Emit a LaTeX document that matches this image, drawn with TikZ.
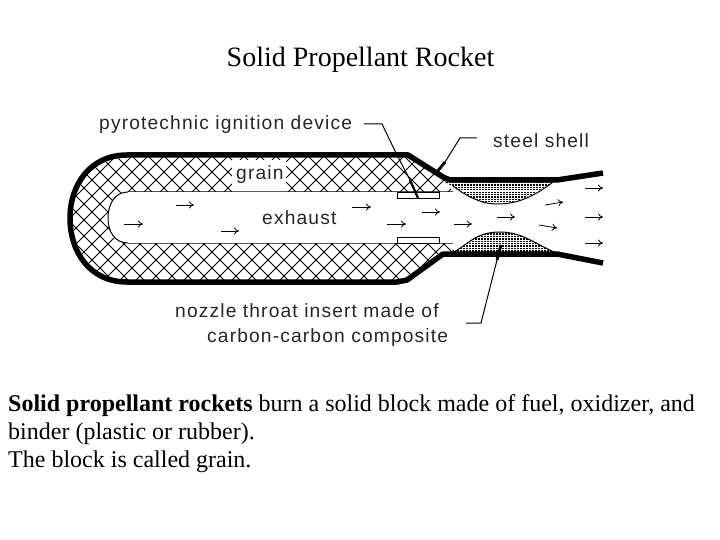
\documentclass[tikz,border=0pt]{standalone}
\usepackage{fontspec}
\usetikzlibrary{arrows.meta}
\setmainfont{Liberation Serif}
\newfontfamily\lblfont[LetterSpace=6]{Liberation Sans}
\begin{document}
\begin{tikzpicture}[x=1pt,y=-1pt,
 lbl/.style={inner sep=0pt,font=\lblfont\fontsize{19.2}{21}\selectfont,text=black!85},
 body/.style={inner sep=0pt,anchor=base west,font=\fontsize{24}{27}\selectfont},
 shell/.style={line width=5.5pt,line join=round},
 hair/.style={line width=1pt},
 flow/.style={line width=0.8pt,-{To[length=5pt,width=7pt]}}]
\path[use as bounding box] (0,0) rectangle (720,540);
\node[inner sep=0pt,font=\fontsize{28}{31}\selectfont] (title) at (360.5,60) {Solid Propellant Rocket};
% grain hatching
\begin{scope}
\clip (127,155) .. controls (90,155) and (68,185) .. (68,218) .. controls (68,252) and (90,282) .. (127,282) -- (397,282) -- (407,280) -- (443,254) -- (455,254) -- (453,243) -- (128,243) .. controls (115,243) and (108,232) .. (108,218) .. controls (108,204) and (115,192) .. (128,192) -- (453,192) -- (443,178) -- (408,155) -- cycle;
\foreach \k in {-20,...,40} {
 \draw[line width=0.9pt] (\k*16+4,140) -- ++(160,160);
 \draw[line width=0.9pt] (\k*16+4,140) -- ++(-160,160);
}
\end{scope}
% nozzle insert dots
\begin{scope}
\clip (440,180) -- (557,180) .. controls (540,190) and (520,204) .. (497,204) .. controls (480,204) and (465,195) .. (452,186) -- cycle;
\foreach \i in {0,...,42} \foreach \j in {0,...,9}
 \fill (440+\i*3,182+\j*2.4) rectangle ++(1.5,1.3);
\end{scope}
\begin{scope}
\clip (450,254) -- (560,254) .. controls (540,248) and (525,232) .. (500,232) .. controls (475,232) and (468,245) .. (450,254) -- cycle;
\foreach \i in {0,...,42} \foreach \j in {0,...,9}
 \fill (448+\i*3,231+\j*2.4) rectangle ++(1.5,1.3);
\end{scope}
\draw[hair] (453,186) .. controls (465,195) and (480,204) .. (497,204) .. controls (520,204) and (535,195) .. (552,183);
\draw[hair] (452,253) .. controls (468,245) and (475,232) .. (500,232) .. controls (525,232) and (540,248) .. (560,254);
% bore
\fill[white] (232,160) rectangle (286,192);
\draw[hair,fill=white] (453,192) -- (128,192) .. controls (115,192) and (108,204) .. (108,218) .. controls (108,232) and (115,243) .. (128,243) -- (453,243);
\path[fill=white] (128,192.5) rectangle (453,242.5);
% shell
\draw[shell] (603,173) -- (557,180) -- (450,180) -- (443,177) -- (408,155) -- (127,155) .. controls (90,155) and (70,185) .. (70,218) .. controls (70,252) and (90,282) .. (127,282) -- (397,282) -- (407,280) -- (443,254) -- (557,254) -- (603,263);
% throat rectangles
\node[draw,hair,fill=white,minimum width=42pt,minimum height=6pt,inner sep=0pt] (rt) at (418,196) {};
\node[draw,hair,fill=white,minimum width=42pt,minimum height=6pt,inner sep=0pt] (rb) at (418,240) {};
% labels
\node[lbl,anchor=west] (ign) at (99,125) {pyrotechnic ignition device};
\node[lbl,anchor=west] (gr) at (236,174.5) {grain};
\node[lbl,anchor=west] (ex) at (262,218) {exhaust};
\node[lbl,anchor=west] (st) at (493,141) {steel shell};
\node[lbl,anchor=west] (nz) at (175,311) {nozzle throat insert made of};
\node[lbl,anchor=west] (cc) at (207,338) {carbon-carbon composite};
% leaders
\coordinate (a1) at (364,124); \coordinate (a2) at (382,124); \coordinate (a3) at (397,155);
\coordinate (a4) at (410,180); \coordinate (a5) at (418,198);
\draw[hair] (a1) -- (a2) -- (a3) -- (a4);
\draw[line width=2.2pt] (a4) -- (a5);
\coordinate (b1) at (477,138); \coordinate (b2) at (460,138); \coordinate (b3) at (445,162); \coordinate (b4) at (437,172);
\draw[hair] (b1) -- (b2) -- (b3);
\draw[line width=2.8pt] (b3) -- (b4);
\coordinate (c1) at (466,323); \coordinate (c2) at (481,323); \coordinate (c3) at (497,260); \coordinate (c4) at (501,245);
\draw[hair] (c1) -- (c2) -- (c3);
\draw[line width=2.8pt] (c3) -- (c4);
% flow arrows
\foreach \xa/\ya/\xb/\yb/\n in {176/205/194/205/f1,124/224/143/224/f2,221/231/239/231/f3,352/207/371/207/f4,387/224/406/224/f5,422/212/440/212/f6,454/224/472/224/f7,497/217/515/217/f8,545/205/563/202/f9,539/225/557/228/f10,585/188/603/188/f11,585/217/603/217/f12,585/243/603/243/f13}
 {\coordinate (\n s) at (\xa,\ya); \coordinate (\n e) at (\xb,\yb); \draw[flow] (\n s) -- (\n e);}
% body
\node[body] (t1) at (8,411) {\textbf{Solid propellant rockets} burn a solid block made of fuel, oxidizer, and};
\node[body] (t2) at (8,439) {binder (plastic or rubber).};
\node[body] (t3) at (8,467) {The block is called grain.};
\end{tikzpicture}
\end{document}
